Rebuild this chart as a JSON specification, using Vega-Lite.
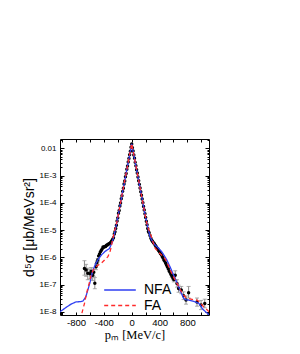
{
  "$schema": "https://vega.github.io/schema/vega-lite/v6.json",
  "autosize": "none",
  "padding": {"left": 60, "top": 139, "right": 91, "bottom": 39},
  "width": 149,
  "height": 176,
  "background": "white",
  "config": {
    "view": {"stroke": "black", "strokeWidth": 1},
    "axis": {"grid": false, "domain": false, "tickColor": "black", "labelColor": "black", "titleColor": "black"}
  },
  "datasets": {
    "pts": [
      {"x": -679, "v": 3.9e-7, "lo": 2.2e-7, "hi": 7.5e-7},
      {"x": -655, "v": 3.4e-7, "lo": 2.0e-7, "hi": 5.5e-7},
      {"x": -631, "v": 2.6e-7, "lo": 1.5e-7, "hi": 4.0e-7},
      {"x": -600, "v": 2.5e-7, "lo": 1.6e-7, "hi": 3.6e-7},
      {"x": -583, "v": 3.0e-7, "lo": 2.0e-7, "hi": 4.2e-7},
      {"x": -560, "v": 2.2e-7, "lo": 1.4e-7, "hi": 3.0e-7},
      {"x": -545, "v": 2.8e-7, "lo": 2.0e-7, "hi": 3.7e-7},
      {"x": -530, "v": 1.12e-7, "lo": 7.0e-8, "hi": 1.8e-7},
      {"x": -512, "v": 4.5e-7, "lo": 3.5e-7, "hi": 5.8e-7},
      {"x": -500, "v": 6.3e-7, "lo": 5.2e-7, "hi": 7.4e-7},
      {"x": -487, "v": 7.9e-7, "lo": 6.8e-7, "hi": 9.0e-7},
      {"x": -475, "v": 1.12e-6},
      {"x": -462, "v": 1.32e-6},
      {"x": -450, "v": 1.58e-6},
      {"x": -438, "v": 1.78e-6},
      {"x": -425, "v": 2.0e-6},
      {"x": -412, "v": 2.4e-6},
      {"x": -400, "v": 2.34e-6},
      {"x": -388, "v": 2.5e-6},
      {"x": -375, "v": 2.5e-6},
      {"x": -362, "v": 2.75e-6},
      {"x": -350, "v": 2.8e-6},
      {"x": -338, "v": 3.0e-6},
      {"x": -325, "v": 3.16e-6},
      {"x": -312, "v": 3.3e-6},
      {"x": -300, "v": 3.55e-6},
      {"x": -288, "v": 4.0e-6},
      {"x": -275, "v": 4.5e-6},
      {"x": -262, "v": 5.2e-6},
      {"x": -250, "v": 7.1e-6},
      {"x": -240, "v": 8.6e-6},
      {"x": -230, "v": 1.15e-5},
      {"x": -220, "v": 1.5e-5},
      {"x": -210, "v": 2.15e-5},
      {"x": -200, "v": 2.8e-5},
      {"x": -190, "v": 4.1e-5},
      {"x": -180, "v": 5.2e-5},
      {"x": -170, "v": 7.6e-5},
      {"x": -160, "v": 9.8e-5},
      {"x": -150, "v": 1.42e-4},
      {"x": -140, "v": 1.82e-4},
      {"x": -130, "v": 2.63e-4},
      {"x": -120, "v": 3.4e-4},
      {"x": -110, "v": 4.9e-4},
      {"x": -100, "v": 6.3e-4},
      {"x": -90, "v": 9.1e-4},
      {"x": -80, "v": 1.2e-3},
      {"x": -70, "v": 1.7e-3},
      {"x": -60, "v": 2.25e-3},
      {"x": -50, "v": 3.15e-3},
      {"x": -40, "v": 4.2e-3},
      {"x": -30, "v": 5.85e-3},
      {"x": -20, "v": 7.8e-3},
      {"x": -10, "v": 1.09e-2},
      {"x": 0, "v": 1.45e-2},
      {"x": 10, "v": 1.06e-2},
      {"x": 20, "v": 8.0e-3},
      {"x": 30, "v": 5.7e-3},
      {"x": 40, "v": 4.3e-3},
      {"x": 50, "v": 3.05e-3},
      {"x": 60, "v": 2.3e-3},
      {"x": 70, "v": 1.64e-3},
      {"x": 80, "v": 1.25e-3},
      {"x": 90, "v": 8.8e-4},
      {"x": 100, "v": 6.5e-4},
      {"x": 110, "v": 4.75e-4},
      {"x": 120, "v": 3.5e-4},
      {"x": 130, "v": 2.55e-4},
      {"x": 140, "v": 1.88e-4},
      {"x": 150, "v": 1.37e-4},
      {"x": 160, "v": 1.01e-4},
      {"x": 170, "v": 7.3e-5},
      {"x": 180, "v": 5.4e-5},
      {"x": 190, "v": 3.95e-5},
      {"x": 200, "v": 2.9e-5},
      {"x": 210, "v": 2.1e-5},
      {"x": 220, "v": 1.55e-5},
      {"x": 230, "v": 1.13e-5},
      {"x": 240, "v": 8.9e-6},
      {"x": 250, "v": 8.0e-6},
      {"x": 262, "v": 6.3e-6},
      {"x": 275, "v": 5.0e-6},
      {"x": 288, "v": 4.2e-6},
      {"x": 300, "v": 3.8e-6},
      {"x": 312, "v": 3.4e-6},
      {"x": 325, "v": 3.16e-6},
      {"x": 338, "v": 2.75e-6},
      {"x": 350, "v": 2.5e-6},
      {"x": 362, "v": 2.2e-6},
      {"x": 375, "v": 2.0e-6},
      {"x": 388, "v": 1.74e-6},
      {"x": 400, "v": 1.58e-6},
      {"x": 412, "v": 1.38e-6},
      {"x": 425, "v": 1.26e-6},
      {"x": 438, "v": 1.07e-6},
      {"x": 450, "v": 9.5e-7},
      {"x": 462, "v": 7.9e-7},
      {"x": 475, "v": 7.1e-7},
      {"x": 488, "v": 6.0e-7},
      {"x": 500, "v": 5.2e-7},
      {"x": 512, "v": 4.5e-7},
      {"x": 525, "v": 3.8e-7},
      {"x": 538, "v": 3.16e-7},
      {"x": 550, "v": 2.8e-7},
      {"x": 562, "v": 2.4e-7},
      {"x": 575, "v": 2.1e-7, "lo": 1.8e-7, "hi": 2.45e-7},
      {"x": 590, "v": 1.78e-7, "lo": 1.5e-7, "hi": 2.1e-7},
      {"x": 605, "v": 1.51e-7, "lo": 1.25e-7, "hi": 1.8e-7},
      {"x": 625, "v": 2.2e-7, "lo": 1.5e-7, "hi": 3.2e-7},
      {"x": 650, "v": 1.1e-7, "lo": 8.0e-8, "hi": 1.5e-7},
      {"x": 673, "v": 7.1e-8, "lo": 5.2e-8, "hi": 9.5e-8},
      {"x": 712, "v": 6.3e-8, "lo": 4.6e-8, "hi": 8.5e-8},
      {"x": 745, "v": 3.9e-8, "lo": 2.8e-8, "hi": 5.4e-8},
      {"x": 780, "v": 2.7e-8, "lo": 1.9e-8, "hi": 3.8e-8},
      {"x": 817, "v": 5.0e-8, "lo": 3.2e-8, "hi": 8.5e-8},
      {"x": 938, "v": 2.3e-8, "lo": 1.6e-8, "hi": 3.2e-8},
      {"x": 996, "v": 1.78e-8, "lo": 1.2e-8, "hi": 2.6e-8},
      {"x": 1049, "v": 2.0e-8, "lo": 1.4e-8, "hi": 2.9e-8}
    ],
    "curves": [
      {"model": "NFA", "x": -1060, "v": 9.0e-9},
      {"model": "NFA", "x": -1030, "v": 1.0e-8},
      {"model": "NFA", "x": -950, "v": 1.4e-8},
      {"model": "NFA", "x": -872, "v": 1.9e-8},
      {"model": "NFA", "x": -800, "v": 2.3e-8},
      {"model": "NFA", "x": -740, "v": 2.35e-8},
      {"model": "NFA", "x": -700, "v": 2.5e-8},
      {"model": "NFA", "x": -660, "v": 3.5e-8},
      {"model": "NFA", "x": -630, "v": 6.3e-8},
      {"model": "NFA", "x": -600, "v": 1.17e-7},
      {"model": "NFA", "x": -560, "v": 3.2e-7},
      {"model": "NFA", "x": -520, "v": 5.6e-7},
      {"model": "NFA", "x": -480, "v": 8.5e-7},
      {"model": "NFA", "x": -430, "v": 1.26e-6},
      {"model": "NFA", "x": -380, "v": 1.66e-6},
      {"model": "NFA", "x": -320, "v": 2.1e-6},
      {"model": "NFA", "x": -280, "v": 3.5e-6},
      {"model": "NFA", "x": -250, "v": 7.0e-6},
      {"model": "NFA", "x": -225, "v": 1.38e-5},
      {"model": "NFA", "x": -200, "v": 2.9e-5},
      {"model": "NFA", "x": -150, "v": 1.38e-4},
      {"model": "NFA", "x": -100, "v": 6.5e-4},
      {"model": "NFA", "x": -50, "v": 3.1e-3},
      {"model": "NFA", "x": 0, "v": 1.45e-2},
      {"model": "NFA", "x": 50, "v": 3.1e-3},
      {"model": "NFA", "x": 100, "v": 6.5e-4},
      {"model": "NFA", "x": 150, "v": 1.38e-4},
      {"model": "NFA", "x": 200, "v": 2.9e-5},
      {"model": "NFA", "x": 230, "v": 1.3e-5},
      {"model": "NFA", "x": 264, "v": 5.6e-6},
      {"model": "NFA", "x": 300, "v": 3.8e-6},
      {"model": "NFA", "x": 336, "v": 2.8e-6},
      {"model": "NFA", "x": 380, "v": 2.24e-6},
      {"model": "NFA", "x": 433, "v": 1.58e-6},
      {"model": "NFA", "x": 470, "v": 1.12e-6},
      {"model": "NFA", "x": 505, "v": 7.9e-7},
      {"model": "NFA", "x": 550, "v": 4.5e-7},
      {"model": "NFA", "x": 601, "v": 2.24e-7},
      {"model": "NFA", "x": 640, "v": 1.32e-7},
      {"model": "NFA", "x": 673, "v": 8.3e-8},
      {"model": "NFA", "x": 710, "v": 5.0e-8},
      {"model": "NFA", "x": 745, "v": 3.1e-8},
      {"model": "NFA", "x": 780, "v": 2.75e-8},
      {"model": "NFA", "x": 817, "v": 2.7e-8},
      {"model": "NFA", "x": 900, "v": 2.35e-8},
      {"model": "NFA", "x": 962, "v": 2.05e-8},
      {"model": "NFA", "x": 990, "v": 1.66e-8},
      {"model": "NFA", "x": 1011, "v": 1.32e-8},
      {"model": "NFA", "x": 1060, "v": 1.0e-8},
      {"model": "NFA", "x": 1130, "v": 7.0e-9},
      {"model": "FA", "x": -740, "v": 5.0e-9},
      {"model": "FA", "x": -700, "v": 1.26e-8},
      {"model": "FA", "x": -679, "v": 2.0e-8},
      {"model": "FA", "x": -655, "v": 4.0e-8},
      {"model": "FA", "x": -631, "v": 7.2e-8},
      {"model": "FA", "x": -600, "v": 1.4e-7},
      {"model": "FA", "x": -583, "v": 2.2e-7},
      {"model": "FA", "x": -550, "v": 3.5e-7},
      {"model": "FA", "x": -511, "v": 4.5e-7},
      {"model": "FA", "x": -470, "v": 5.4e-7},
      {"model": "FA", "x": -439, "v": 6.0e-7},
      {"model": "FA", "x": -390, "v": 7.9e-7},
      {"model": "FA", "x": -342, "v": 1.05e-6},
      {"model": "FA", "x": -310, "v": 1.66e-6},
      {"model": "FA", "x": -294, "v": 2.45e-6},
      {"model": "FA", "x": -270, "v": 5.0e-6},
      {"model": "FA", "x": -245, "v": 1.0e-5},
      {"model": "FA", "x": -225, "v": 1.4e-5},
      {"model": "FA", "x": -200, "v": 2.9e-5},
      {"model": "FA", "x": -150, "v": 1.4e-4},
      {"model": "FA", "x": -100, "v": 6.6e-4},
      {"model": "FA", "x": -50, "v": 3.1e-3},
      {"model": "FA", "x": 0, "v": 1.5e-2},
      {"model": "FA", "x": 50, "v": 3.1e-3},
      {"model": "FA", "x": 100, "v": 6.6e-4},
      {"model": "FA", "x": 150, "v": 1.4e-4},
      {"model": "FA", "x": 200, "v": 2.9e-5},
      {"model": "FA", "x": 225, "v": 1.4e-5},
      {"model": "FA", "x": 264, "v": 7.9e-6},
      {"model": "FA", "x": 300, "v": 4.0e-6},
      {"model": "FA", "x": 336, "v": 2.14e-6},
      {"model": "FA", "x": 400, "v": 1.41e-6},
      {"model": "FA", "x": 457, "v": 1.05e-6},
      {"model": "FA", "x": 500, "v": 7.1e-7},
      {"model": "FA", "x": 553, "v": 3.4e-7},
      {"model": "FA", "x": 600, "v": 1.9e-7},
      {"model": "FA", "x": 650, "v": 1.1e-7},
      {"model": "FA", "x": 700, "v": 6.3e-8},
      {"model": "FA", "x": 745, "v": 4.1e-8},
      {"model": "FA", "x": 780, "v": 3.3e-8},
      {"model": "FA", "x": 817, "v": 3.1e-8},
      {"model": "FA", "x": 880, "v": 2.8e-8},
      {"model": "FA", "x": 938, "v": 2.7e-8},
      {"model": "FA", "x": 990, "v": 2.1e-8},
      {"model": "FA", "x": 1034, "v": 1.5e-8},
      {"model": "FA", "x": 1070, "v": 1.26e-8},
      {"model": "FA", "x": 1130, "v": 9.0e-9}
    ]
  },
  "resolve": {"axis": {"x": "independent", "y": "independent"}},
  "layer": [
    {
      "data": {"name": "pts"},
      "transform": [{"filter": "datum.lo != null"}],
      "mark": {"type": "rule", "color": "#8a8a8a", "strokeWidth": 1, "clip": true},
      "encoding": {
        "x": {
          "field": "x", "type": "quantitative",
          "scale": {"domain": [-1030, 1110], "nice": false, "zero": false},
          "axis": {
            "orient": "bottom",
            "values": [-1000, -800, -600, -400, -200, 0, 200, 400, 600, 800, 1000],
            "labelExpr": "datum.value % 400 == 0 ? '' + datum.value : ''",
            "tickSize": -3,
            "labelPadding": 5,
            "labelFont": "Liberation Sans",
            "labelFontSize": 9.5,
            "title": "pₘ [MeV/c]",
            "titleFont": "Liberation Serif",
            "titleFontSize": 12.5,
            "titleFontWeight": "normal",
            "titlePadding": 2
          }
        },
        "y": {
          "field": "lo", "type": "quantitative",
          "scale": {"type": "log", "domain": [7.6e-9, 0.022], "nice": false},
          "axis": {
            "orient": "left",
            "values": [8e-9, 9e-9, 1e-8, 2e-8, 3e-8, 4e-8, 5e-8, 6e-8, 7e-8, 8e-8, 9e-8, 1e-7, 2e-7, 3e-7, 4e-7, 5e-7, 6e-7, 7e-7, 8e-7, 9e-7, 1e-6, 2e-6, 3e-6, 4e-6, 5e-6, 6e-6, 7e-6, 8e-6, 9e-6, 1e-5, 2e-5, 3e-5, 4e-5, 5e-5, 6e-5, 7e-5, 8e-5, 9e-5, 1e-4, 2e-4, 3e-4, 4e-4, 5e-4, 6e-4, 7e-4, 8e-4, 9e-4, 1e-3, 2e-3, 3e-3, 4e-3, 5e-3, 6e-3, 7e-3, 8e-3, 9e-3, 1e-2, 2e-2],
            "labelExpr": "abs(log(datum.value)/LN10 - round(log(datum.value)/LN10)) < 0.01 ? (datum.value > 0.005 ? '0.01' : '1E' + round(log(datum.value)/LN10)) : ''",
            "tickSize": {"condition": {"test": "abs(log(datum.value)/LN10 - round(log(datum.value)/LN10)) < 0.01", "value": -4}, "value": -2},
            "labelPadding": 8,
            "labelFont": "Liberation Sans",
            "labelFontSize": 8,
            "title": "d⁵σ  [μb/MeVsr²]",
            "titleFont": "Liberation Sans",
            "titleFontSize": 14,
            "titleFontWeight": "normal",
            "titlePadding": 3
          }
        },
        "y2": {"field": "hi"}
      }
    },
    {
      "data": {"name": "pts"},
      "transform": [{"filter": "datum.lo != null"}],
      "mark": {"type": "tick", "orient": "horizontal", "color": "#8a8a8a", "size": 4, "thickness": 1, "clip": true},
      "encoding": {
        "x": {"field": "x", "type": "quantitative", "axis": null},
        "y": {"field": "lo", "type": "quantitative", "axis": null}
      }
    },
    {
      "data": {"name": "pts"},
      "transform": [{"filter": "datum.lo != null"}],
      "mark": {"type": "tick", "orient": "horizontal", "color": "#8a8a8a", "size": 4, "thickness": 1, "clip": true},
      "encoding": {
        "x": {"field": "x", "type": "quantitative", "axis": null},
        "y": {"field": "hi", "type": "quantitative", "axis": null}
      }
    },
    {
      "data": {"name": "pts"},
      "mark": {"type": "circle", "color": "black", "opacity": 1, "size": 12, "clip": true},
      "encoding": {
        "x": {
          "field": "x", "type": "quantitative",
          "axis": {"orient": "top", "values": [-1000, -800, -600, -400, -200, 0, 200, 400, 600, 800, 1000], "labels": false, "tickSize": -3, "title": null}
        },
        "y": {
          "field": "v", "type": "quantitative",
          "axis": {
            "orient": "right", "labels": false, "title": null,
            "values": [8e-9, 9e-9, 1e-8, 2e-8, 3e-8, 4e-8, 5e-8, 6e-8, 7e-8, 8e-8, 9e-8, 1e-7, 2e-7, 3e-7, 4e-7, 5e-7, 6e-7, 7e-7, 8e-7, 9e-7, 1e-6, 2e-6, 3e-6, 4e-6, 5e-6, 6e-6, 7e-6, 8e-6, 9e-6, 1e-5, 2e-5, 3e-5, 4e-5, 5e-5, 6e-5, 7e-5, 8e-5, 9e-5, 1e-4, 2e-4, 3e-4, 4e-4, 5e-4, 6e-4, 7e-4, 8e-4, 9e-4, 1e-3, 2e-3, 3e-3, 4e-3, 5e-3, 6e-3, 7e-3, 8e-3, 9e-3, 1e-2, 2e-2],
            "tickSize": {"condition": {"test": "abs(log(datum.value)/LN10 - round(log(datum.value)/LN10)) < 0.01", "value": -4}, "value": -2}
          }
        }
      }
    },
    {
      "data": {"name": "curves"},
      "mark": {"type": "line", "strokeWidth": 1.3, "clip": true},
      "encoding": {
        "x": {"field": "x", "type": "quantitative", "axis": null},
        "y": {"field": "v", "type": "quantitative", "axis": null},
        "color": {
          "field": "model", "type": "nominal",
          "scale": {"domain": ["NFA", "FA"], "range": ["#2f3ff2", "#ff2a2a"]},
          "legend": {
            "title": null, "orient": "none", "legendX": 53, "legendY": 144,
            "symbolType": "M-5,0H5", "symbolSize": 40, "symbolStrokeWidth": 1.5,
            "symbolFillColor": "transparent",
            "labelFont": "Liberation Sans", "labelFontSize": 14, "labelColor": "black",
            "labelOffset": 17, "rowPadding": 1.5, "symbolOffset": 0
          }
        },
        "strokeDash": {
          "field": "model", "type": "nominal",
          "scale": {"domain": ["NFA", "FA"], "range": [[1, 0], [4, 3]]},
          "legend": null
        }
      }
    }
  ]
}
